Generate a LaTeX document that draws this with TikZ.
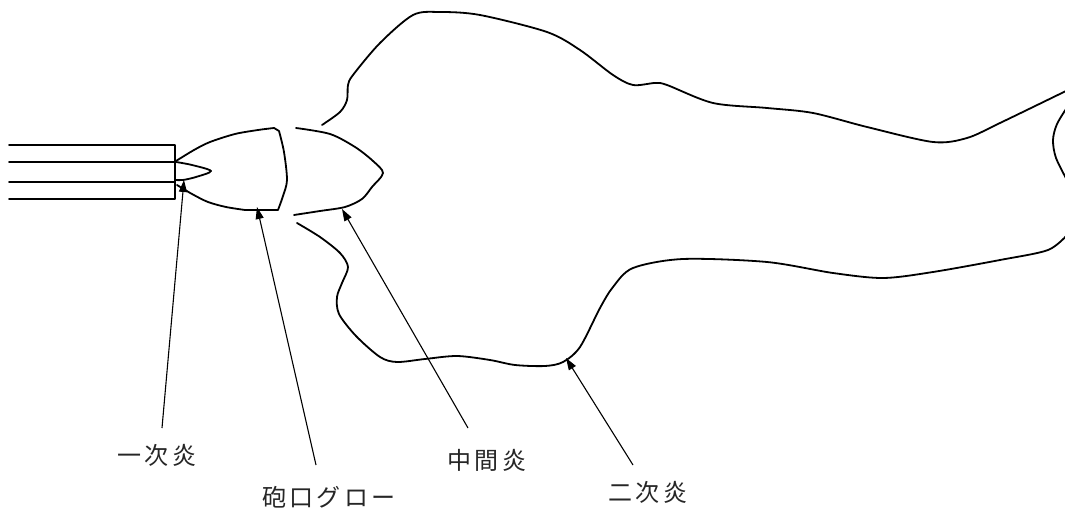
\documentclass[tikz,border=0pt]{standalone}
\usepackage{fontspec}
\usetikzlibrary{arrows.meta}
\newfontfamily\jp{Noto Sans CJK JP}[LetterSpace=14]
\begin{document}
\begin{tikzpicture}[x=1pt,y=-1pt,
  outline/.style={line width=1.8pt, line join=round, line cap=round},
  pointer/.style={line width=1.1pt, -{Triangle[length=12pt,width=8pt]}},
  lbl/.style={font=\jp\fontsize{24}{28}\selectfont, text=black!85, inner sep=0pt}]
\useasboundingbox (0,0) rectangle (1065,510);
\clip (0,0) rectangle (1065,510);

% barrel
\draw[outline] (9,145) -- (175,145) -- (175,199) -- (9,199);
\draw[outline] (9,162) -- (175,162);
\draw[outline] (9,182) -- (175,182);

% primary flame at the muzzle
\draw[outline] plot[smooth] coordinates {(176,162) (192,165) (211,171) (196,177) (183,180) (176,180)};

% muzzle glow
\draw[outline] plot[smooth] coordinates {(176,161) (194,150) (210,142) (235,134) (258,130) (274,128)}
  -- (279,131)
  plot[smooth] coordinates {(279,131) (284,152) (287,180) (283,196) (278,210)}
  -- (245,210)
  plot[smooth] coordinates {(245,210) (226,207) (208,202) (192,194) (177,185)};

% intermediate flame
\draw[outline] plot[smooth] coordinates {(296,128) (330,134) (355,147) (373,161) (383,173) (372,187) (362,199) (345,207) (320,211) (294,215)};

% secondary flame: upper edge
\draw[outline] plot[smooth] coordinates {(322,125) (340,112) (347,100) (348,85) (353,75) (380,43) (413,15) (440,12) (480,15) (547,32) (580,50) (613,75) (633,85) (655,83) (667,85) (713,103) (767,108) (813,113) (867,127) (933,142) (967,138) (1000,123) (1068,90)};
% secondary flame: tip
\draw[outline] plot[smooth] coordinates {(1068,106) (1057,124) (1053,140) (1056,158) (1068,182)};
% secondary flame: lower edge
\draw[outline] plot[smooth] coordinates {(297,223) (320,237) (340,253) (348,267) (342,283) (337,297) (339,314) (356,336) (380,357) (397,362) (425,359) (457,356) (490,360) (515,365) (545,366) (563,362) (580,347) (600,308) (613,287) (633,268) (683,259) (767,262) (833,273) (883,278) (933,272) (1000,260) (1048,250) (1068,234)};

% labels
\node[lbl] (primary) at (157,455) {一次炎};
\node[lbl] (glow) at (329,497) {砲口グロー};
\node[lbl] (middle) at (487,460) {中間炎};
\node[lbl] (secondary) at (648,492) {二次炎};

% pointer ends
\coordinate (primaryTail) at (162,428);
\coordinate (primaryTip) at (184,180);
\coordinate (glowTail) at (316,465);
\coordinate (glowTip) at (257,207);
\coordinate (middleTail) at (468,428);
\coordinate (middleTip) at (342,209);
\coordinate (secondaryTail) at (633,465);
\coordinate (secondaryTip) at (566,358);

\draw[pointer] (primaryTail) -- (primaryTip);
\draw[pointer] (glowTail) -- (glowTip);
\draw[pointer] (middleTail) -- (middleTip);
\draw[pointer] (secondaryTail) -- (secondaryTip);
\end{tikzpicture}
\end{document}
